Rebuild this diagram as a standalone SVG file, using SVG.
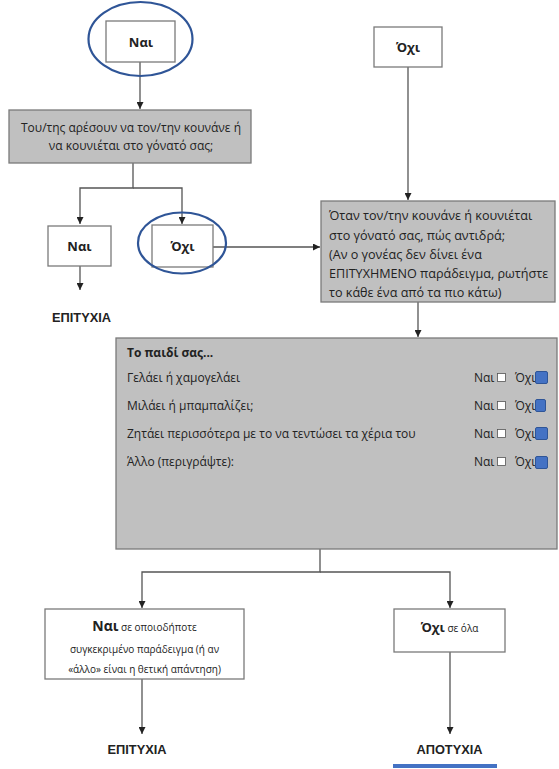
<svg xmlns="http://www.w3.org/2000/svg" width="559" height="769" viewBox="0 0 559 769">
  <style>
    .box { fill: #ffffff; stroke: #7a7a7a; stroke-width: 1.3; }
    .gbox { fill: #c0c0c0; stroke: #7a7a7a; stroke-width: 1.3; }
    .ring { fill: none; stroke: #2f5597; stroke-width: 2.2; }
    .line { fill: none; stroke: #555555; stroke-width: 1.3; }
    text { font-family: "Open Sans", "Liberation Sans", sans-serif; fill: #222222; }
    .t { font-size: 10px; }
    .t1 { font-size: 12px; }
    .t2 { font-size: 12.6px; }
    .t3 { font-size: 12px; }
    .b { font-weight: bold; }
    .lbl { font-size: 13px; font-weight: bold; }
    .res { font-family: "Liberation Sans", Arial, sans-serif; font-size: 12.8px; font-weight: bold; }
    .chk { fill: #ffffff; stroke: #555555; stroke-width: 0.8; }
    .blue { fill: #4472c4; stroke: #2f5597; stroke-width: 1; }
  </style>
  <defs>
    <marker id="arr" viewBox="0 0 8 8" refX="8" refY="4" markerWidth="7" markerHeight="7" orient="auto" markerUnits="userSpaceOnUse">
      <path d="M0,0 L8,4 L0,8 z" fill="#222222"/>
    </marker>
  </defs>

  <!-- connectors -->
  <g id="connectors">
    <path class="line" d="M140,62 V109" marker-end="url(#arr)"/>
    <path class="line" d="M133,163 V188 H80 V224" marker-end="url(#arr)"/>
    <path class="line" d="M133,188 H182 V224" marker-end="url(#arr)"/>
    <path class="line" d="M80,266 V290" marker-end="url(#arr)"/>
    <path class="line" d="M213,247 H320" marker-end="url(#arr)"/>
    <path class="line" d="M408,67 V200" marker-end="url(#arr)"/>
    <path class="line" d="M418,302 V337" marker-end="url(#arr)"/>
    <path class="line" d="M320,549 V572 H142 V608" marker-end="url(#arr)"/>
    <path class="line" d="M320,572 H450 V608" marker-end="url(#arr)"/>
    <path class="line" d="M142,679 V734" marker-end="url(#arr)"/>
    <path class="line" d="M450,652 V734" marker-end="url(#arr)"/>
  </g>

  <!-- start: yes -->
  <g id="start-yes">
    <rect class="box" x="106" y="21" width="69" height="41"/>
    <text class="lbl" x="141" y="47" text-anchor="middle" font-size="15">Ναι</text>
    <ellipse class="ring" cx="140.5" cy="39" rx="52" ry="37"/>
  </g>

  <!-- start: no -->
  <g id="start-no">
    <rect class="box" x="374" y="27" width="68" height="40"/>
    <text class="lbl" x="408" y="52" text-anchor="middle">Όχι</text>
  </g>

  <!-- question 1 -->
  <g id="q1">
    <rect class="gbox" x="9" y="110" width="242" height="53"/>
    <text class="t1" x="131" y="132" text-anchor="middle">Του/της αρέσουν να τον/την κουνάνε ή</text>
    <text class="t1" x="131" y="150" text-anchor="middle">να κουνιέται στο γόνατό σας;</text>
  </g>

  <!-- answer yes -->
  <g id="ans-yes">
    <rect class="box" x="48" y="226" width="63" height="40"/>
    <text class="lbl" x="79.5" y="251" text-anchor="middle">Ναι</text>
  </g>

  <!-- answer no -->
  <g id="ans-no">
    <rect class="box" x="152" y="225" width="61" height="42"/>
    <text class="lbl" x="182.5" y="251" text-anchor="middle">Όχι</text>
    <ellipse class="ring" cx="182" cy="243" rx="44" ry="30.5"/>
  </g>

  <!-- result: success (upper) -->
  <g id="success-1">
    <text class="res" x="81.5" y="322" text-anchor="middle" font-size="13.5">ΕΠΙΤΥΧΙΑ</text>
  </g>

  <!-- question 2 -->
  <g id="q2">
    <rect class="gbox" x="321" y="201" width="234" height="101"/>
    <text class="t2" x="329" y="220">Όταν τον/την κουνάνε ή κουνιέται</text>
    <text class="t2" x="329" y="240">στο γόνατό σας, πώς αντιδρά;</text>
    <text class="t2" x="329" y="259">(Αν ο γονέας δεν δίνει ένα</text>
    <text class="t2" x="329" y="278">ΕΠΙΤΥΧΗΜΕΝΟ παράδειγμα, ρωτήστε</text>
    <text class="t2" x="329" y="297">το κάθε ένα από τα πιο κάτω)</text>
  </g>

  <!-- checklist -->
  <g id="checklist">
    <rect class="gbox" x="116" y="338" width="441" height="211"/>
    <text class="t1 b" x="127" y="357">Το παιδί σας...</text>
    <text class="t3" x="127" y="382">Γελάει ή χαμογελάει</text>
    <text class="t3" x="127" y="410">Μιλάει ή μπαμπαλίζει;</text>
    <text class="t3" x="127" y="438">Ζητάει περισσότερα με το να τεντώσει τα χέρια του</text>
    <text class="t3" x="127" y="466">Άλλο (περιγράψτε):</text>

    <text class="t3" x="474" y="382">Ναι</text>
    <rect class="chk" x="497.5" y="373.5" width="8" height="8"/>
    <text class="t3" x="515" y="382">Όχι</text>
    <rect class="blue" x="535.5" y="371.5" width="12" height="12" rx="1.5"/>

    <text class="t3" x="474" y="410">Ναι</text>
    <rect class="chk" x="497.5" y="401.5" width="8" height="8"/>
    <text class="t3" x="515" y="410">Όχι</text>
    <rect class="blue" x="535.5" y="399.5" width="10" height="12" rx="1.5"/>

    <text class="t3" x="474" y="438">Ναι</text>
    <rect class="chk" x="497.5" y="429.5" width="8" height="8"/>
    <text class="t3" x="515" y="438">Όχι</text>
    <rect class="blue" x="535.5" y="427.5" width="12" height="12" rx="1.5"/>

    <text class="t3" x="474" y="466">Ναι</text>
    <rect class="chk" x="497.5" y="457.5" width="8" height="8"/>
    <text class="t3" x="515" y="466">Όχι</text>
    <rect class="blue" x="535.5" y="456.5" width="12" height="12" rx="1.5"/>
  </g>

  <!-- outcome: yes to any -->
  <g id="out-yes">
    <rect class="box" x="45" y="609" width="199" height="70"/>
    <text class="t" x="144.5" y="631" text-anchor="middle"><tspan class="b" font-size="14">Ναι</tspan> σε οποιοδήποτε</text>
    <text class="t" x="144.5" y="653" text-anchor="middle">συγκεκριμένο παράδειγμα (ή αν</text>
    <text class="t" x="144.5" y="673" text-anchor="middle">«άλλο» είναι  η θετική απάντηση)</text>
  </g>

  <!-- outcome: no to all -->
  <g id="out-no">
    <rect class="box" x="394" y="609" width="111" height="43"/>
    <text class="t" x="449.5" y="632" text-anchor="middle"><tspan class="b" font-size="13">Όχι</tspan> σε όλα</text>
  </g>

  <!-- result: success (lower) -->
  <g id="success-2">
    <text class="res" x="137" y="754" text-anchor="middle">ΕΠΙΤΥΧΙΑ</text>
  </g>

  <!-- result: failure -->
  <g id="failure">
    <text class="res" x="449.5" y="754" text-anchor="middle">ΑΠΟΤΥΧΙΑ</text>
    <rect x="393" y="764" width="104" height="4" fill="#4472c4"/>
  </g>
</svg>
